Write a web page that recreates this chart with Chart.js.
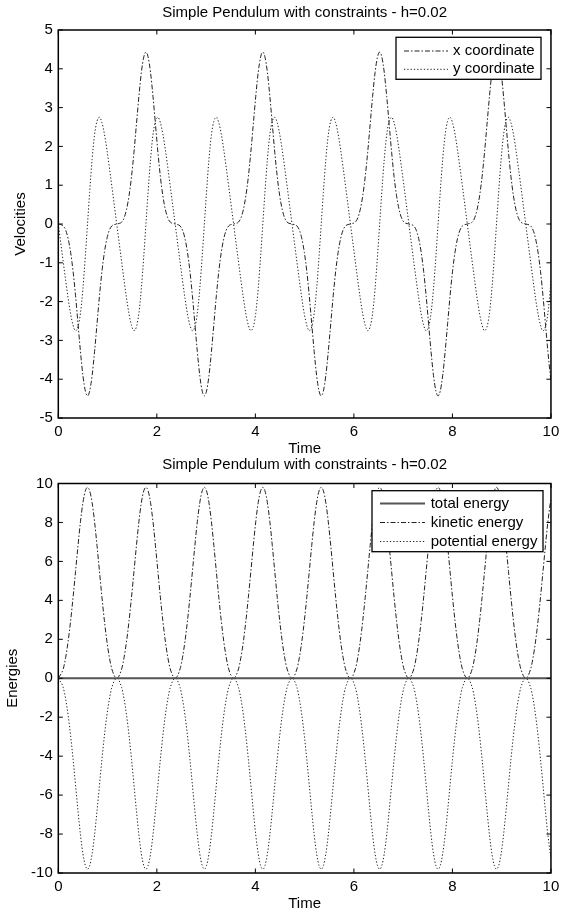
<!DOCTYPE html>
<html>
<head>
<meta charset="utf-8">
<script src="https://cdn.jsdelivr.net/npm/chart.js@4.4.1/dist/chart.umd.min.js"></script>
<style>
  html, body { margin: 0; padding: 0; background: #fff; }
  #wrap { width: 564px; height: 914px; }
  canvas { display: block; }
</style>
</head>
<body>
<div id="wrap">
  <canvas id="vel" width="564" height="457"></canvas>
  <canvas id="energy" width="564" height="457"></canvas>
</div>
<script>
// sample times (s), one row per half swing of the pendulum
const time = [
  0, 0.1, 0.15, 0.2, 0.25, 0.3, 0.35, 0.4, 0.45, 0.5, 0.55, 0.593, 0.636, 0.686, 0.736, 0.786, 0.836, 0.886, 0.936, 0.986, 1.036, 1.086,
  1.186, 1.286, 1.336, 1.386, 1.436, 1.486, 1.536, 1.586, 1.636, 1.686, 1.736, 1.779, 1.822, 1.872, 1.922, 1.972, 2.022, 2.072, 2.122, 2.172, 2.222, 2.272,
  2.372, 2.472, 2.522, 2.572, 2.622, 2.672, 2.722, 2.772, 2.822, 2.872, 2.922, 2.965, 3.008, 3.058, 3.108, 3.158, 3.208, 3.258, 3.308, 3.358, 3.408, 3.458,
  3.558, 3.658, 3.708, 3.758, 3.808, 3.858, 3.908, 3.958, 4.008, 4.058, 4.108, 4.151, 4.194, 4.244, 4.294, 4.344, 4.394, 4.444, 4.494, 4.544, 4.594, 4.644,
  4.744, 4.844, 4.894, 4.944, 4.994, 5.044, 5.094, 5.144, 5.194, 5.244, 5.294, 5.337, 5.380, 5.430, 5.480, 5.530, 5.580, 5.630, 5.680, 5.730, 5.780, 5.830,
  5.930, 6.030, 6.080, 6.130, 6.180, 6.230, 6.280, 6.330, 6.380, 6.430, 6.480, 6.523, 6.566, 6.616, 6.666, 6.716, 6.766, 6.816, 6.866, 6.916, 6.966, 7.016,
  7.116, 7.216, 7.266, 7.316, 7.366, 7.416, 7.466, 7.516, 7.566, 7.616, 7.666, 7.709, 7.752, 7.802, 7.852, 7.902, 7.952, 8.002, 8.052, 8.102, 8.152, 8.202,
  8.302, 8.402, 8.452, 8.502, 8.552, 8.602, 8.652, 8.702, 8.752, 8.802, 8.852, 8.895, 8.938, 8.988, 9.038, 9.088, 9.138, 9.188, 9.238, 9.288, 9.338, 9.388,
  9.488, 9.588, 9.638, 9.688, 9.738, 9.788, 9.838, 9.888, 9.938, 9.988, 10
];

// x velocity
const vx = [
  0, -0.05, -0.16, -0.38, -0.73, -1.22, -1.85, -2.57, -3.29, -3.91, -4.31, -4.43, -4.31, -3.91, -3.29, -2.57, -1.85, -1.22, -0.73, -0.38, -0.16, -0.05,
  0, 0.05, 0.16, 0.38, 0.73, 1.22, 1.85, 2.57, 3.29, 3.91, 4.31, 4.43, 4.31, 3.91, 3.29, 2.57, 1.85, 1.22, 0.73, 0.38, 0.16, 0.05,
  0, -0.05, -0.16, -0.38, -0.73, -1.22, -1.85, -2.57, -3.29, -3.91, -4.31, -4.43, -4.31, -3.91, -3.29, -2.57, -1.85, -1.22, -0.73, -0.38, -0.16, -0.05,
  0, 0.05, 0.16, 0.38, 0.73, 1.22, 1.85, 2.57, 3.29, 3.91, 4.31, 4.43, 4.31, 3.91, 3.29, 2.57, 1.85, 1.22, 0.73, 0.38, 0.16, 0.05,
  0, -0.05, -0.16, -0.38, -0.73, -1.22, -1.85, -2.57, -3.29, -3.91, -4.31, -4.43, -4.31, -3.91, -3.29, -2.57, -1.85, -1.22, -0.73, -0.38, -0.16, -0.05,
  0, 0.05, 0.16, 0.38, 0.73, 1.22, 1.85, 2.57, 3.29, 3.91, 4.31, 4.43, 4.31, 3.91, 3.29, 2.57, 1.85, 1.22, 0.73, 0.38, 0.16, 0.05,
  0, -0.05, -0.16, -0.38, -0.73, -1.22, -1.85, -2.57, -3.29, -3.91, -4.31, -4.43, -4.31, -3.91, -3.29, -2.57, -1.85, -1.22, -0.73, -0.38, -0.16, -0.05,
  0, 0.05, 0.16, 0.38, 0.73, 1.22, 1.85, 2.57, 3.29, 3.91, 4.31, 4.43, 4.31, 3.91, 3.29, 2.57, 1.85, 1.22, 0.73, 0.38, 0.16, 0.05,
  0, -0.05, -0.16, -0.38, -0.73, -1.22, -1.85, -2.57, -3.29, -3.91, -4.03
];

// y velocity
const vy = [
  0, -0.98, -1.46, -1.92, -2.32, -2.61, -2.75, -2.65, -2.30, -1.66, -0.81, 0, 0.81, 1.66, 2.30, 2.65, 2.75, 2.61, 2.32, 1.92, 1.46, 0.98,
  0, -0.98, -1.46, -1.92, -2.32, -2.61, -2.75, -2.65, -2.30, -1.66, -0.81, 0, 0.81, 1.66, 2.30, 2.65, 2.75, 2.61, 2.32, 1.92, 1.46, 0.98,
  0, -0.98, -1.46, -1.92, -2.32, -2.61, -2.75, -2.65, -2.30, -1.66, -0.81, 0, 0.81, 1.66, 2.30, 2.65, 2.75, 2.61, 2.32, 1.92, 1.46, 0.98,
  0, -0.98, -1.46, -1.92, -2.32, -2.61, -2.75, -2.65, -2.30, -1.66, -0.81, 0, 0.81, 1.66, 2.30, 2.65, 2.75, 2.61, 2.32, 1.92, 1.46, 0.98,
  0, -0.98, -1.46, -1.92, -2.32, -2.61, -2.75, -2.65, -2.30, -1.66, -0.81, 0, 0.81, 1.66, 2.30, 2.65, 2.75, 2.61, 2.32, 1.92, 1.46, 0.98,
  0, -0.98, -1.46, -1.92, -2.32, -2.61, -2.75, -2.65, -2.30, -1.66, -0.81, 0, 0.81, 1.66, 2.30, 2.65, 2.75, 2.61, 2.32, 1.92, 1.46, 0.98,
  0, -0.98, -1.46, -1.92, -2.32, -2.61, -2.75, -2.65, -2.30, -1.66, -0.81, 0, 0.81, 1.66, 2.30, 2.65, 2.75, 2.61, 2.32, 1.92, 1.46, 0.98,
  0, -0.98, -1.46, -1.92, -2.32, -2.61, -2.75, -2.65, -2.30, -1.66, -0.81, 0, 0.81, 1.66, 2.30, 2.65, 2.75, 2.61, 2.32, 1.92, 1.46, 0.98,
  0, -0.98, -1.46, -1.92, -2.32, -2.61, -2.75, -2.65, -2.30, -1.66, -1.47
];

// kinetic energy
const kinetic = [
  0, 0.48, 1.08, 1.91, 2.95, 4.16, 5.48, 6.81, 8.04, 9.02, 9.63, 9.80, 9.63, 9.02, 8.04, 6.81, 5.48, 4.16, 2.95, 1.91, 1.08, 0.48,
  0, 0.48, 1.08, 1.91, 2.95, 4.16, 5.48, 6.81, 8.04, 9.02, 9.63, 9.80, 9.63, 9.02, 8.04, 6.81, 5.48, 4.16, 2.95, 1.91, 1.08, 0.48,
  0, 0.48, 1.08, 1.91, 2.95, 4.16, 5.48, 6.81, 8.04, 9.02, 9.63, 9.80, 9.63, 9.02, 8.04, 6.81, 5.48, 4.16, 2.95, 1.91, 1.08, 0.48,
  0, 0.48, 1.08, 1.91, 2.95, 4.16, 5.48, 6.81, 8.04, 9.02, 9.63, 9.80, 9.63, 9.02, 8.04, 6.81, 5.48, 4.16, 2.95, 1.91, 1.08, 0.48,
  0, 0.48, 1.08, 1.91, 2.95, 4.16, 5.48, 6.81, 8.04, 9.02, 9.63, 9.80, 9.63, 9.02, 8.04, 6.81, 5.48, 4.16, 2.95, 1.91, 1.08, 0.48,
  0, 0.48, 1.08, 1.91, 2.95, 4.16, 5.48, 6.81, 8.04, 9.02, 9.63, 9.80, 9.63, 9.02, 8.04, 6.81, 5.48, 4.16, 2.95, 1.91, 1.08, 0.48,
  0, 0.48, 1.08, 1.91, 2.95, 4.16, 5.48, 6.81, 8.04, 9.02, 9.63, 9.80, 9.63, 9.02, 8.04, 6.81, 5.48, 4.16, 2.95, 1.91, 1.08, 0.48,
  0, 0.48, 1.08, 1.91, 2.95, 4.16, 5.48, 6.81, 8.04, 9.02, 9.63, 9.80, 9.63, 9.02, 8.04, 6.81, 5.48, 4.16, 2.95, 1.91, 1.08, 0.48,
  0, 0.48, 1.08, 1.91, 2.95, 4.16, 5.48, 6.81, 8.04, 9.02, 9.20
];

// potential energy
const potential = [
  0, -0.48, -1.08, -1.91, -2.95, -4.16, -5.48, -6.81, -8.04, -9.02, -9.63, -9.80, -9.63, -9.02, -8.04, -6.81, -5.48, -4.16, -2.95, -1.91, -1.08, -0.48,
  0, -0.48, -1.08, -1.91, -2.95, -4.16, -5.48, -6.81, -8.04, -9.02, -9.63, -9.80, -9.63, -9.02, -8.04, -6.81, -5.48, -4.16, -2.95, -1.91, -1.08, -0.48,
  0, -0.48, -1.08, -1.91, -2.95, -4.16, -5.48, -6.81, -8.04, -9.02, -9.63, -9.80, -9.63, -9.02, -8.04, -6.81, -5.48, -4.16, -2.95, -1.91, -1.08, -0.48,
  0, -0.48, -1.08, -1.91, -2.95, -4.16, -5.48, -6.81, -8.04, -9.02, -9.63, -9.80, -9.63, -9.02, -8.04, -6.81, -5.48, -4.16, -2.95, -1.91, -1.08, -0.48,
  0, -0.48, -1.08, -1.91, -2.95, -4.16, -5.48, -6.81, -8.04, -9.02, -9.63, -9.80, -9.63, -9.02, -8.04, -6.81, -5.48, -4.16, -2.95, -1.91, -1.08, -0.48,
  0, -0.48, -1.08, -1.91, -2.95, -4.16, -5.48, -6.81, -8.04, -9.02, -9.63, -9.80, -9.63, -9.02, -8.04, -6.81, -5.48, -4.16, -2.95, -1.91, -1.08, -0.48,
  0, -0.48, -1.08, -1.91, -2.95, -4.16, -5.48, -6.81, -8.04, -9.02, -9.63, -9.80, -9.63, -9.02, -8.04, -6.81, -5.48, -4.16, -2.95, -1.91, -1.08, -0.48,
  0, -0.48, -1.08, -1.91, -2.95, -4.16, -5.48, -6.81, -8.04, -9.02, -9.63, -9.80, -9.63, -9.02, -8.04, -6.81, -5.48, -4.16, -2.95, -1.91, -1.08, -0.48,
  0, -0.48, -1.08, -1.91, -2.95, -4.16, -5.48, -6.81, -8.04, -9.02, -9.20
];

// total energy stays at zero
const totalTime = [0, 10];
const totalEnergy = [0, 0];

const xTicks = { min: 0, max: 10, step: 2 };
const velTicks = { min: -5, max: 5, step: 1 };
const energyTicks = { min: -10, max: 10, step: 2 };

const FONT = '"Liberation Sans", Arial, Helvetica, sans-serif';
const DASHDOT = [5, 2, 1.5, 2];
const DOTTED = [1.3, 2];

const pts = (xs, ys) => xs.map((t, i) => ({ x: t, y: ys[i] }));

// matlab-ish frame: box, inward ticks on all sides, titles and an opaque legend
const matlabFrame = {
  id: 'matlabFrame',
  afterDatasetsDraw(chart, args, o) {
    const { ctx, chartArea: a, scales } = chart;
    ctx.save();
    ctx.setLineDash([]);
    ctx.strokeStyle = '#000';
    ctx.lineWidth = 1;
    const tl = 4.5;
    scales.x.ticks.forEach(t => {
      const px = scales.x.getPixelForValue(t.value);
      ctx.beginPath();
      ctx.moveTo(px, a.bottom); ctx.lineTo(px, a.bottom - tl);
      ctx.moveTo(px, a.top); ctx.lineTo(px, a.top + tl);
      ctx.stroke();
    });
    scales.y.ticks.forEach(t => {
      const py = scales.y.getPixelForValue(t.value);
      ctx.beginPath();
      ctx.moveTo(a.left, py); ctx.lineTo(a.left + tl, py);
      ctx.moveTo(a.right, py); ctx.lineTo(a.right - tl, py);
      ctx.stroke();
    });
    ctx.lineWidth = 1.5;
    ctx.strokeRect(a.left, a.top, a.right - a.left, a.bottom - a.top);

    // legend
    const lg = o.legend;
    ctx.fillStyle = '#fff';
    ctx.fillRect(lg.x, lg.y, lg.w, lg.h);
    ctx.lineWidth = 1.3;
    ctx.strokeRect(lg.x, lg.y, lg.w, lg.h);
    ctx.font = '15px ' + FONT;
    ctx.textBaseline = 'middle';
    ctx.textAlign = 'left';
    chart.data.datasets.forEach((ds, i) => {
      const y = lg.rows[i];
      ctx.strokeStyle = ds.borderColor;
      ctx.lineWidth = ds.borderWidth;
      ctx.setLineDash(ds.borderDash || []);
      ctx.beginPath();
      ctx.moveTo(lg.sx0, y); ctx.lineTo(lg.sx1, y);
      ctx.stroke();
      ctx.fillStyle = '#000';
      ctx.fillText(ds.label, lg.tx, y);
    });
    ctx.setLineDash([]);

    // titles
    const cx = (a.left + a.right) / 2;
    ctx.fillStyle = '#000';
    ctx.textAlign = 'center';
    ctx.fillText(o.title, cx, o.titleY);
    ctx.fillText(o.xLabel, cx, o.xLabelY);
    ctx.translate(o.yLabelX, (a.top + a.bottom) / 2);
    ctx.rotate(-Math.PI / 2);
    ctx.fillText(o.yLabel, 0, 0);
    ctx.restore();
  }
};

function axes(yT, padTop, xH) {
  return {
    x: {
      type: 'linear', min: xTicks.min, max: xTicks.max,
      ticks: { stepSize: xTicks.step, color: '#000', font: { family: FONT, size: 15 }, padding: 4.7, maxRotation: 0 },
      grid: { display: false, drawTicks: false },
      border: { display: false },
      afterFit: s => { s.height = xH; }
    },
    y: {
      min: yT.min, max: yT.max,
      ticks: { stepSize: yT.step, color: '#000', font: { family: FONT, size: 15 }, padding: 5.5 },
      grid: { display: false, drawTicks: false },
      border: { display: false },
      afterFit: s => { s.width = 30.3; }
    }
  };
}

const lineDs = (label, data, dash, color, width) => ({
  label, data, borderColor: color, borderWidth: width, borderDash: dash,
  pointRadius: 0, fill: false, cubicInterpolationMode: 'monotone'
});

new Chart(document.getElementById('vel'), {
  type: 'line',
  data: {
    datasets: [
      lineDs('x coordinate', pts(time, vx), DASHDOT, '#222', 1),
      lineDs('y coordinate', pts(time, vy), DOTTED, '#222', 1)
    ]
  },
  options: {
    responsive: false, animation: false, events: [],
    layout: { padding: { top: 30, left: 28, right: 13, bottom: 0 } },
    scales: axes(velTicks, 30, 39),
    plugins: {
      legend: { display: false }, tooltip: { enabled: false },
      matlabFrame: {
        title: 'Simple Pendulum with constraints - h=0.02', titleY: 12.5,
        xLabel: 'Time', xLabelY: 449,
        yLabel: 'Velocities', yLabelX: 21,
        legend: { x: 396, y: 37.3, w: 145, h: 42, rows: [51, 69.3], sx0: 404, sx1: 448, tx: 453 }
      }
    }
  },
  plugins: [matlabFrame]
});

new Chart(document.getElementById('energy'), {
  type: 'line',
  data: {
    datasets: [
      lineDs('total energy', pts(totalTime, totalEnergy), [], '#555', 1.8),
      lineDs('kinetic energy', pts(time, kinetic), DASHDOT, '#222', 1),
      lineDs('potential energy', pts(time, potential), DOTTED, '#222', 1)
    ]
  },
  options: {
    responsive: false, animation: false, events: [],
    layout: { padding: { top: 26.5, left: 28, right: 13, bottom: 0 } },
    scales: axes(energyTicks, 26.5, 41),
    plugins: {
      legend: { display: false }, tooltip: { enabled: false },
      matlabFrame: {
        title: 'Simple Pendulum with constraints - h=0.02', titleY: 8,
        xLabel: 'Time', xLabelY: 447,
        yLabel: 'Energies', yLabelX: 12.5,
        legend: { x: 372, y: 33.7, w: 171, h: 61, rows: [46.5, 65.5, 84.5], sx0: 380, sx1: 425, tx: 430.7 }
      }
    }
  },
  plugins: [matlabFrame]
});
</script>
</body>
</html>
